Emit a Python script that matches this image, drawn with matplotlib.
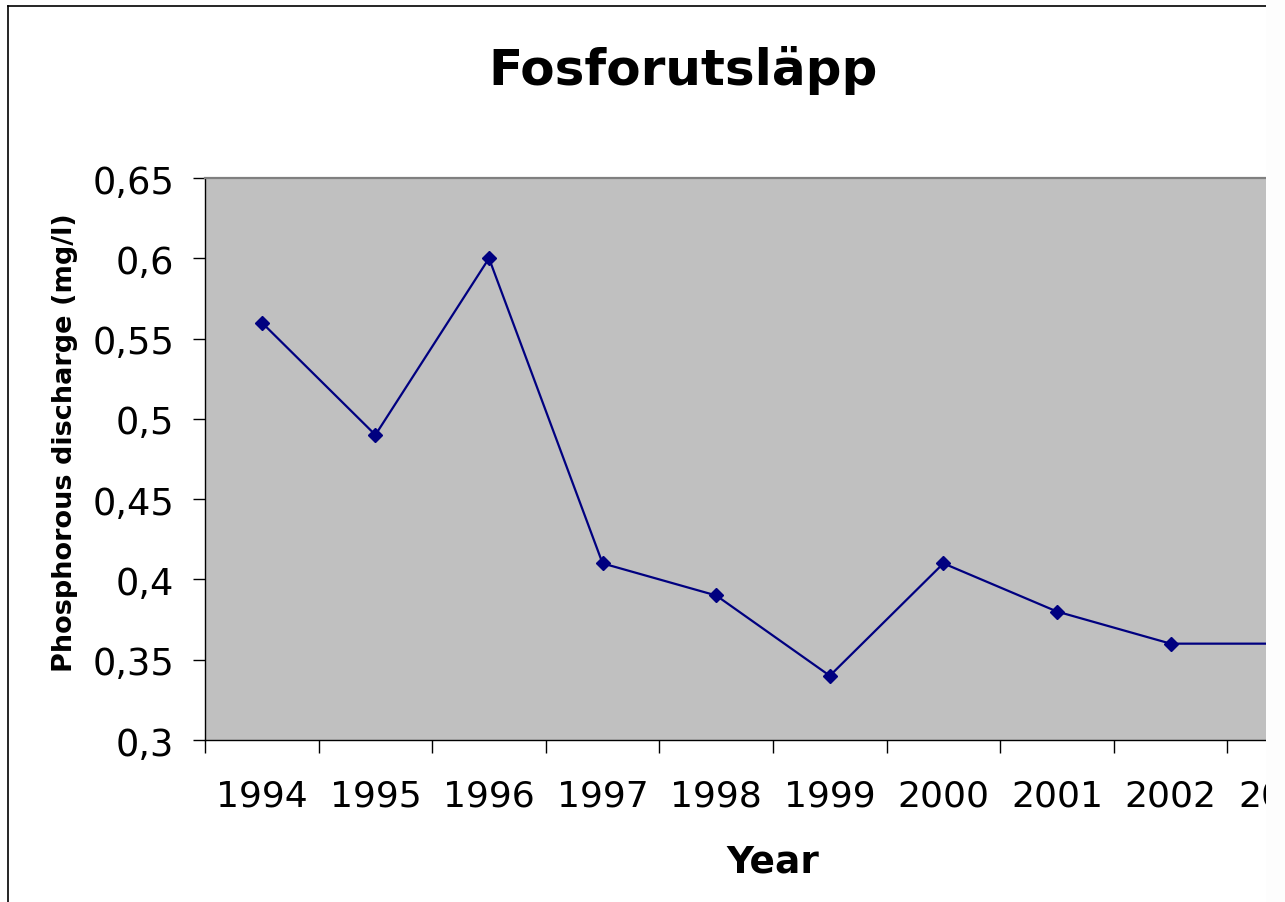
import matplotlib
matplotlib.use("Agg")
import matplotlib.pyplot as plt
from matplotlib.lines import Line2D
from matplotlib.patches import Rectangle

years = ["1994", "1995", "1996", "1997", "1998", "1999", "2000", "2001", "2002", "2003"]
discharge = [0.56, 0.49, 0.60, 0.41, 0.39, 0.34, 0.41, 0.38, 0.36, 0.36]
yticks = [0.30, 0.35, 0.40, 0.45, 0.50, 0.55, 0.60, 0.65]
ytick_labels = ["0,3", "0,35", "0,4", "0,45", "0,5", "0,55", "0,6", "0,65"]

W, H = 1285, 903
fig = plt.figure(figsize=(W / 100, H / 100), dpi=100)
fig.patch.set_facecolor("white")

left, right, top, bottom = 205, 1341, 179, 741
ax = fig.add_axes([left / W, (H - bottom) / H, (right - left) / W, (bottom - top) / H])
ax.set_facecolor("#c0c0c0")

x = list(range(len(years)))
ax.plot(x, discharge, color="#000080", lw=1.6, marker="D", ms=7.5,
        mfc="#000080", mec="#000080", clip_on=True)

ax.set_xlim(-0.5, len(years) - 0.5)
ax.set_ylim(0.3, 0.65)

ax.set_yticks(yticks)
ax.set_yticklabels(ytick_labels)
ax.set_xticks([i - 0.5 for i in range(len(years) + 1)])
ax.set_xticklabels([])
ax.set_xticks(x, minor=True)
ax.set_xticklabels(years, minor=True)

ax.tick_params(axis="y", which="major", direction="out", length=9, width=1,
               color="#000000", labelsize=26.5, pad=13)
ax.tick_params(axis="x", which="major", direction="out", length=9, width=1,
               color="#000000")
ax.tick_params(axis="x", which="minor", length=0, labelsize=26, pad=28)

for s in ["left", "bottom"]:
    ax.spines[s].set_color("#000000")
    ax.spines[s].set_linewidth(1)
ax.spines["top"].set_color("#808080")
ax.spines["top"].set_linewidth(1.6)
ax.spines["right"].set_color("#808080")
ax.spines["right"].set_linewidth(1.6)

fig.text(683 / W, (H - 85) / H, "Fosforutsläpp", ha="center", va="baseline",
         fontsize=36, fontweight="bold")
fig.text(773 / W, (H - 873) / H, "Year", ha="center", va="baseline",
         fontsize=27, fontweight="bold")
fig.text(65 / W, (H - 443) / H, "Phosphorous discharge (mg/l)", ha="center",
         va="center", rotation=90, fontsize=19.5, fontweight="bold")

# chart border (left and top visible)
fig.add_artist(Line2D([7.5 / W, 7.5 / W], [0, (H - 6.5) / H], color="black",
                      lw=1.2, transform=fig.transFigure))
fig.add_artist(Line2D([7.5 / W, 1266 / W], [(H - 6.5) / H, (H - 6.5) / H],
                      color="black", lw=1.2, transform=fig.transFigure))
# cropped right edge
fig.add_artist(Rectangle((1266 / W, 0), (W - 1266) / W, 1, transform=fig.transFigure,
                         facecolor="#fdfdfd", edgecolor="none", zorder=10))

fig.savefig("out.png", dpi=100)
